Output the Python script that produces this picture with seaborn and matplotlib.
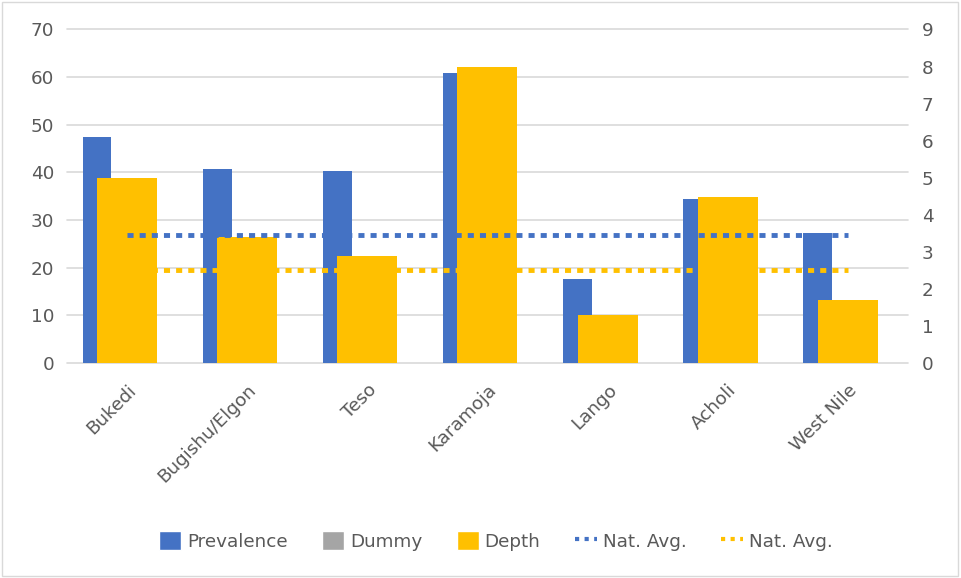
import numpy as np
import pandas as pd
import seaborn as sns
import matplotlib.pyplot as plt
from matplotlib.patches import Patch, Rectangle
from matplotlib.lines import Line2D

# Données
regions = ["Bukedi", "Bugishu/Elgon", "Teso", "Karamoja", "Lango", "Acholi", "West Nile"]
prevalence = [47.5, 40.8, 40.4, 60.8, 17.6, 34.5, 27.2]
dummy = [0, 0, 0, 0, 0, 0, 0]
depth = [5.0, 3.39, 2.89, 8.0, 1.29, 4.49, 1.70]
nat_avg_prevalence = [26.9] * len(regions)
nat_avg_depth = [2.5] * len(regions)

BLUE = "#4472C4"
GRAY = "#A5A5A5"
YELLOW = "#FFC000"
TXT = "#595959"
FS = 13.2

sns.set_theme(style="white")
plt.rcParams['font.family'] = ['DejaVu Sans']

fig = plt.figure(figsize=(9.61, 5.78), dpi=100)
ax = fig.add_axes([0.0697, 0.372, 0.875, 0.577])

# Barres axe principal (Prevalence + Dummy)
df_prim = pd.DataFrame({
    "region": regions * 2,
    "series": ["Prevalence"] * len(regions) + ["Dummy"] * len(regions),
    "value": prevalence + dummy,
})
sns.barplot(data=df_prim, x="region", y="value", hue="series",
            palette={"Prevalence": BLUE, "Dummy": GRAY}, width=1.0, gap=0.52,
            saturation=1, linewidth=0, legend=False, ax=ax, errorbar=None)
ax.set_ylim(0, 70)
ax.set_yticks(range(0, 71, 10))
ax.yaxis.grid(True, color="#D9D9D9", linewidth=1.2)
ax.set_axisbelow(True)
for gl in ax.get_ygridlines():
    gl.set_clip_on(False)

# Axe secondaire (Depth)
ax2 = ax.twinx()
sns.barplot(x=regions, y=depth, color=YELLOW, width=0.5, saturation=1,
            linewidth=0, ax=ax2, errorbar=None)
sns.lineplot(x=np.arange(len(regions)), y=nat_avg_depth, color=YELLOW,
             linewidth=3.5, ax=ax2, zorder=5)
ax2.lines[-1].set_linestyle((0, (1.25, 1.25)))
ax2.set_ylim(0, 9)
ax2.set_yticks(range(0, 10))

# Ligne moyenne nationale prévalence au-dessus de tout
ax3 = ax.twinx()
sns.lineplot(x=np.arange(len(regions)), y=nat_avg_prevalence, color=BLUE,
             linewidth=3.5, ax=ax3, zorder=5)
ax3.lines[-1].set_linestyle((0, (1.25, 1.25)))
ax3.set_ylim(0, 70)
ax3.set_yticks([])
ax3.set_xlim(-0.5, len(regions) - 0.5)
ax.set_xlim(-0.5, len(regions) - 0.5)

for a in (ax, ax2, ax3):
    for s in a.spines.values():
        s.set_visible(False)
    a.set_xlabel("")
    a.set_ylabel("")

ax.tick_params(axis="y", length=0, pad=9, labelsize=FS, labelcolor=TXT)
ax2.tick_params(axis="y", length=0, pad=10, labelsize=FS, labelcolor=TXT)
ax.tick_params(axis="x", length=0, pad=13, labelsize=FS, labelcolor=TXT)
ax.set_xticks(range(len(regions)))
ax.set_xticklabels(regions, rotation=45, ha="right", rotation_mode="anchor")
ax2.tick_params(axis="x", labelbottom=False, length=0)
ax3.tick_params(axis="both", length=0, labelbottom=False)

# Légende
handles = [
    Patch(facecolor=BLUE, label="Prevalence"),
    Patch(facecolor=GRAY, label="Dummy"),
    Patch(facecolor=YELLOW, label="Depth"),
    Line2D([0], [0], color=BLUE, linewidth=3, linestyle=(0, (1, 1.3)), label="Nat. Avg."),
    Line2D([0], [0], color=YELLOW, linewidth=3, linestyle=(0, (1, 1.3)), label="Nat. Avg."),
]
leg = fig.legend(handles=handles, loc="center", bbox_to_anchor=(0.516, 0.064), ncol=5,
                 frameon=False, fontsize=FS, handlelength=1.2, handleheight=1.2,
                 handletextpad=0.3, columnspacing=1.9)
for t in leg.get_texts():
    t.set_color(TXT)

# Cadre de la figure
fig.patches.append(Rectangle((0.002, 0.003), 0.995, 0.994, transform=fig.transFigure,
                             fill=False, edgecolor="#D9D9D9", linewidth=1))

plt.savefig("out.png", dpi=100)
